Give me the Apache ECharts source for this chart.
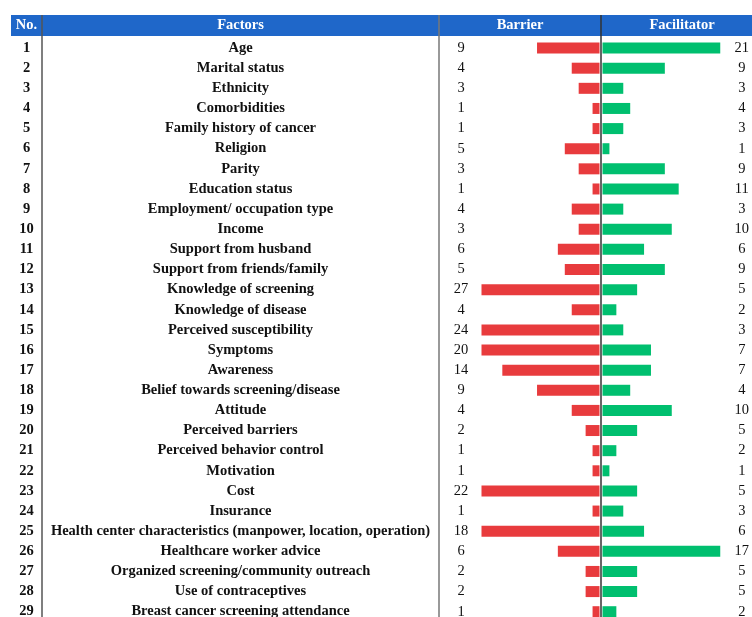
<!DOCTYPE html>
<html>
<head>
<meta charset="utf-8">
<script src="https://cdn.jsdelivr.net/npm/echarts@6/dist/echarts.min.js"></script>
<style>
  html, body { margin: 0; padding: 0; background: #fff; overflow: hidden; }
  #chart { width: 752px; height: 640px; }
</style>
</head>
<body>
<div id="chart"></div>
<script>
var nos = ['1','2','3','4','5','6','7','8','9','10','11','12','13','14','15','16','17','18','19','20','21','22','23','24','25','26','27','28','29'];
var factors = [
    'Age', 'Marital status', 'Ethnicity', 'Comorbidities', 'Family history of cancer',
    'Religion', 'Parity', 'Education status', 'Employment/ occupation type', 'Income',
    'Support from husband', 'Support from friends/family', 'Knowledge of screening',
    'Knowledge of disease', 'Perceived susceptibility', 'Symptoms', 'Awareness',
    'Belief towards screening/disease', 'Attitude', 'Perceived barriers',
    'Perceived behavior control', 'Motivation', 'Cost', 'Insurance',
    'Health center characteristics (manpower, location, operation)',
    'Healthcare worker advice', 'Organized screening/community outreach',
    'Use of contraceptives', 'Breast cancer screening attendance'
];
var barrier = [9, 4, 3, 1, 1, 5, 3, 1, 4, 3, 6, 5, 27, 4, 24, 20, 14, 9, 4, 2, 1, 1, 22, 1, 18, 6, 2, 2, 1];
var facilitator = [21, 9, 3, 4, 3, 1, 9, 11, 3, 10, 6, 9, 5, 2, 3, 7, 7, 4, 10, 5, 2, 1, 5, 3, 6, 17, 5, 5, 2];
var headers = ['No.', 'Factors', 'Barrier', 'Facilitator'];

// data bars are capped like in the spreadsheet (max of the bar scale)
var barMax = 17;

var serif = '"Liberation Serif", "DejaVu Serif", serif';
var gridTop = 38, rowsH = 29 * 20.13;
var redColor = '#e83b3d';
var greenColor = '#00bf6f';
var blue = '#1f67c9';

var myChart = echarts.init(document.getElementById('chart'));

function catAxis(grid, data, pos, margin, bold, size) {
    return {
        type: 'category',
        gridIndex: grid,
        inverse: true,
        position: pos,
        data: data,
        axisLine: { show: false },
        axisTick: { show: false },
        splitLine: { show: false },
        axisLabel: {
            margin: margin,
            align: 'center',
            fontFamily: serif,
            fontSize: size,
            fontWeight: bold ? 'bold' : 'normal',
            color: '#111'
        }
    };
}

var headFont = 'bold 14.5px ' + serif;

var option = {
    animation: false,
    backgroundColor: '#fff',
    grid: [
        { left: 481.5, top: gridTop, width: 118, height: rowsH },
        { left: 602.5, top: gridTop, width: 118, height: rowsH }
    ],
    xAxis: [
        { type: 'value', gridIndex: 0, inverse: true, min: 0, max: barMax, show: false },
        { type: 'value', gridIndex: 1, min: 0, max: barMax, show: false }
    ],
    yAxis: [
        catAxis(0, nos, 'left', 481.5 - 26.5, true, 14.5),
        catAxis(0, factors, 'left', 481.5 - 240.5, true, 14.5),
        catAxis(0, barrier.map(String), 'left', 481.5 - 461, false, 14.5),
        catAxis(1, facilitator.map(String), 'right', 742 - 720.5, false, 14.5)
    ],
    graphic: [
        { type: 'rect', shape: { x: 11, y: 15, width: 741, height: 21 }, style: { fill: blue }, z: 0 },
        { type: 'text', x: 26.5, y: 25.5, style: { text: headers[0], fill: '#fff', font: headFont, align: 'center', verticalAlign: 'middle' } },
        { type: 'text', x: 240.5, y: 25.5, style: { text: headers[1], fill: '#fff', font: headFont, align: 'center', verticalAlign: 'middle' } },
        { type: 'text', x: 520, y: 25.5, style: { text: headers[2], fill: '#fff', font: headFont, align: 'center', verticalAlign: 'middle' } },
        { type: 'text', x: 682, y: 25.5, style: { text: headers[3], fill: '#fff', font: headFont, align: 'center', verticalAlign: 'middle' } },
        // table rules
        { type: 'line', shape: { x1: 42, y1: 15, x2: 42, y2: 640 }, style: { stroke: '#555', lineWidth: 1.5 }, z: 10 },
        { type: 'line', shape: { x1: 439, y1: 15, x2: 439, y2: 640 }, style: { stroke: '#777', lineWidth: 1.5 }, z: 10 },
        { type: 'line', shape: { x1: 601, y1: 15, x2: 601, y2: 640 }, style: { stroke: '#333', lineWidth: 1.5 }, z: 10 }
    ],
    series: [
        {
            name: headers[2],
            type: 'bar',
            xAxisIndex: 0,
            yAxisIndex: 0,
            barWidth: 11,
            clip: true,
            itemStyle: { color: redColor },
            data: barrier
        },
        {
            name: headers[3],
            type: 'bar',
            xAxisIndex: 1,
            yAxisIndex: 3,
            barWidth: 11,
            clip: true,
            itemStyle: { color: greenColor },
            data: facilitator
        }
    ]
};

myChart.setOption(option);
</script>
</body>
</html>
